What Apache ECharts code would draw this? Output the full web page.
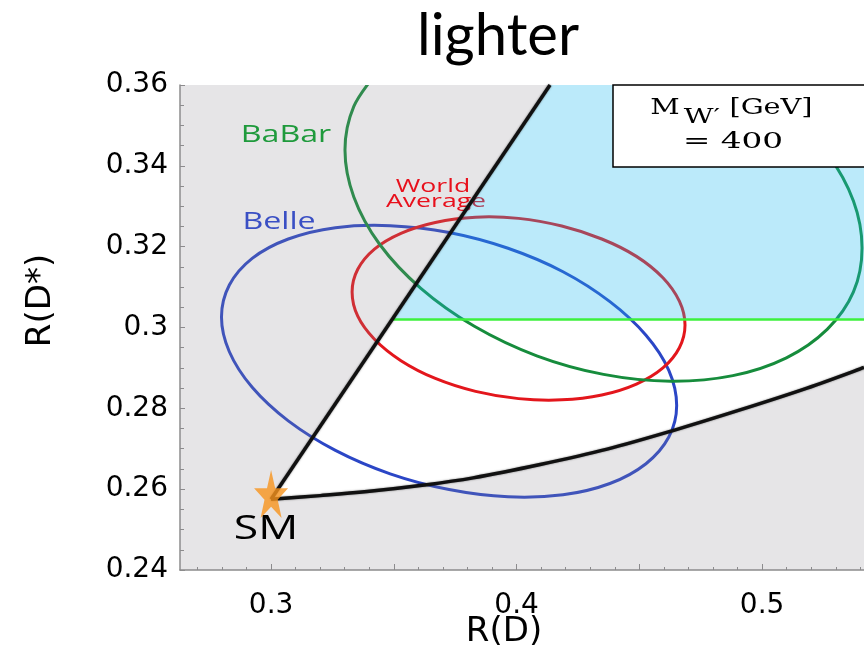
<!DOCTYPE html>
<html>
<head>
<meta charset="utf-8">
<script src="https://cdn.jsdelivr.net/npm/echarts@6/dist/echarts.min.js"></script>
<style>
  html, body { margin: 0; padding: 0; background: #fff; }
  #chart { width: 864px; height: 650px; }
</style>
</head>
<body>
<div id="chart"></div>
<script>
// Axis ranges and tick positions
const xRange = [0.2629, 0.5415];
const yRange = [0.24, 0.36];
const xLabelTicks = [0.3, 0.4, 0.5];
const xMajorTicks = [0.3, 0.35, 0.4, 0.45, 0.5];
const xMinorTicks = [0.27, 0.28, 0.29, 0.31, 0.32, 0.33, 0.34, 0.36, 0.37, 0.38, 0.39,
                     0.41, 0.42, 0.43, 0.44, 0.46, 0.47, 0.48, 0.49, 0.51, 0.52, 0.53, 0.54];

// Standard Model point [R(D), R(D*)]
const smPoint = [0.300, 0.2588];

// Allowed-region boundaries
const upperEdge = [[0.300, 0.2575], [0.4136, 0.36]];
const lowerEdge = [[0.300, 0.2575], [0.320, 0.2584], [0.3391, 0.2594], [0.3607, 0.2609],
                   [0.3823, 0.2628], [0.4096, 0.2661], [0.4369, 0.2699], [0.4637, 0.2745],
                   [0.4910, 0.2796], [0.5183, 0.2850], [0.5415, 0.2901]];
const rDstarCut = [[0.3493, 0.302], [0.5415, 0.302]];

// 1-sigma contours [R(D), R(D*)]
const belle = [[0.4652, 0.2807], [0.4620, 0.2729], [0.4527, 0.2663], [0.4380, 0.2614], [0.4189, 0.2586],
               [0.3965, 0.2581], [0.3725, 0.2599], [0.3485, 0.2638], [0.3262, 0.2696], [0.3070, 0.2769],
               [0.2923, 0.2852], [0.2830, 0.2940], [0.2798, 0.3026], [0.2830, 0.3105], [0.2923, 0.3171],
               [0.3070, 0.3219], [0.3262, 0.3247], [0.3485, 0.3252], [0.3725, 0.3235], [0.3965, 0.3196],
               [0.4189, 0.3138], [0.4380, 0.3064], [0.4527, 0.2981], [0.4620, 0.2894]];
const worldAverage = [[0.4686, 0.3006], [0.4663, 0.2950], [0.4596, 0.2900], [0.4488, 0.2860], [0.4347, 0.2833],
                      [0.4184, 0.2821], [0.4008, 0.2824], [0.3833, 0.2842], [0.3669, 0.2874], [0.3529, 0.2918],
                      [0.3421, 0.2971], [0.3353, 0.3028], [0.3330, 0.3088], [0.3353, 0.3144], [0.3421, 0.3194],
                      [0.3529, 0.3233], [0.3669, 0.3260], [0.3833, 0.3273], [0.4008, 0.3270], [0.4184, 0.3251],
                      [0.4347, 0.3219], [0.4488, 0.3176], [0.4596, 0.3123], [0.4663, 0.3065]];
const babar = [[0.4881, 0.3633], [0.5099, 0.3539], [0.5266, 0.3430], [0.5372, 0.3313], [0.5407, 0.3197],
               [0.5372, 0.3088], [0.5266, 0.2996], [0.5099, 0.2925], [0.4881, 0.2881], [0.4627, 0.2867],
               [0.4354, 0.2884], [0.4082, 0.2930], [0.3828, 0.3003], [0.3610, 0.3097], [0.3442, 0.3206],
               [0.3337, 0.3323], [0.3301, 0.3439], [0.3337, 0.3547], [0.3442, 0.3640]];

// Cubic (Catmull-Rom) path segments through pixel points, without the leading move
function splineSegments(px, closed) {
  const n = px.length;
  const f = v => v.toFixed(2);
  let d = '';
  const segs = closed ? n : n - 1;
  for (let i = 0; i < segs; i++) {
    const p0 = px[closed ? (i - 1 + n) % n : Math.max(i - 1, 0)];
    const p1 = px[i];
    const p2 = px[(i + 1) % n];
    const p3 = px[closed ? (i + 2) % n : Math.min(i + 2, n - 1)];
    const c1x = p1[0] + (p2[0] - p0[0]) / 6, c1y = p1[1] + (p2[1] - p0[1]) / 6;
    const c2x = p2[0] - (p3[0] - p1[0]) / 6, c2y = p2[1] - (p3[1] - p1[1]) / 6;
    d += ' C' + f(c1x) + ' ' + f(c1y) + ' ' + f(c2x) + ' ' + f(c2y) + ' ' + f(p2[0]) + ' ' + f(p2[1]);
  }
  return d;
}
function splinePath(px, closed) {
  return 'M' + px[0][0].toFixed(2) + ' ' + px[0][1].toFixed(2) + splineSegments(px, closed) + (closed ? ' Z' : '');
}

function curveSeries(pts, color, closed, width, z, extraStyle) {
  return {
    type: 'custom', coordinateSystem: 'cartesian2d', silent: true, clip: true, z: z,
    data: pts,
    renderItem: function (params, api) {
      if (params.dataIndex !== 0) return null;
      const px = pts.map(p => api.coord(p));
      return {
        type: 'path',
        shape: { pathData: splinePath(px, closed) },
        style: Object.assign({ fill: null, stroke: color, lineWidth: width, lineJoin: 'round' }, extraStyle || {})
      };
    }
  };
}

const starPath = 'path://M50,0 L61.8,35.4 L99,35.4 L69,57.3 L80.3,92.7 L50,70.8 L19.7,92.7 L31,57.3 L1,35.4 L38.2,35.4 Z';
const tickFont = 'DejaVu Sans';
const edgeStyle = { shadowBlur: 2, shadowColor: 'rgba(0,0,0,0.5)' };

const chart = echarts.init(document.getElementById('chart'), null, { renderer: 'canvas' });
chart.setOption({
  animation: false,
  backgroundColor: '#fff',
  title: {
    text: 'lighter', left: 493, top: 2, textAlign: 'center',
    textStyle: { fontFamily: 'Lato', fontSize: 58, fontWeight: 'normal', color: '#000' }
  },
  grid: { left: 180, right: 0, top: 85, bottom: 80, containLabel: false, outerBoundsMode: 'none' },
  xAxis: [{
    type: 'value', min: xRange[0], max: xRange[1], position: 'bottom',
    name: 'R(D)', nameLocation: 'middle', nameGap: 45, nameMoveOverlap: false,
    nameTextStyle: { fontFamily: tickFont, fontSize: 34, color: '#000', padding: [0, 36, 0, 0] },
    axisLine: { show: true, lineStyle: { color: '#8c8c8c', width: 1.5 } },
    axisTick: { show: true, inside: true, length: 6, customValues: xMajorTicks, lineStyle: { color: '#8c8c8c' } },
    axisLabel: {
      customValues: xLabelTicks, margin: 22, color: '#000', fontFamily: tickFont, fontSize: 28,
      formatter: v => String(+(+v).toFixed(2))
    },
    splitLine: { show: false }
  }, {
    type: 'value', min: xRange[0], max: xRange[1], position: 'bottom',
    axisLine: { show: false },
    axisTick: { show: true, inside: true, length: 3, customValues: xMinorTicks, lineStyle: { color: '#8c8c8c' } },
    axisLabel: { show: false },
    splitLine: { show: false }
  }],
  yAxis: {
    type: 'value', min: yRange[0], max: yRange[1], interval: 0.02,
    name: 'R(D*)', nameLocation: 'middle', nameGap: 122,
    nameTextStyle: { fontFamily: tickFont, fontSize: 34, color: '#000', padding: [0, 0, 0, 54] },
    axisLine: { show: true, lineStyle: { color: '#8c8c8c', width: 1.5 } },
    axisTick: { show: true, inside: true, length: 5, lineStyle: { color: '#8c8c8c' } },
    minorTick: { show: true, splitNumber: 4, length: 4, lineStyle: { color: '#8c8c8c' } },
    axisLabel: { margin: 12, color: '#000', fontFamily: tickFont, fontSize: 28 },
    splitLine: { show: false }
  },
  series: [
    curveSeries(belle, '#2b46c6', true, 3, 2),
    curveSeries(worldAverage, '#e3161c', true, 3, 2),
    curveSeries(babar, '#168c3c', false, 3, 2),
    {
      // excluded (grey) region: everything outside the wedge between the two edges
      type: 'custom', coordinateSystem: 'cartesian2d', silent: true, clip: true, z: 3,
      data: lowerEdge,
      renderItem: function (params, api) {
        if (params.dataIndex !== 0) return null;
        const c = p => api.coord(p).map(v => v.toFixed(2)).join(' ');
        const px = lowerEdge.map(p => api.coord(p));
        const d = 'M' + c([xRange[0], yRange[0]]) + ' L' + c([xRange[0], yRange[1]]) +
                  ' L' + c(upperEdge[1]) + ' L' + c(upperEdge[0]) + ' L' + c(lowerEdge[0]) +
                  splineSegments(px, false) +
                  ' L' + c([xRange[1], yRange[0]]) + ' Z';
        return { type: 'path', shape: { pathData: d }, style: { fill: 'rgba(140,136,144,0.22)', stroke: null } };
      }
    },
    {
      // favoured (blue) region above the R(D*) cut
      type: 'custom', coordinateSystem: 'cartesian2d', silent: true, clip: true, z: 5,
      data: rDstarCut,
      renderItem: function (params, api) {
        if (params.dataIndex !== 0) return null;
        const pts = [rDstarCut[0], upperEdge[1], [xRange[1], yRange[1]], rDstarCut[1]];
        return {
          type: 'polygon', shape: { points: pts.map(p => api.coord(p)) },
          style: { fill: 'rgba(30,185,240,0.3)', stroke: null }
        };
      }
    },
    {
      type: 'line', data: rDstarCut, symbol: 'none', z: 6, silent: true,
      lineStyle: { color: '#3cf03c', width: 2.5 }
    },
    {
      type: 'line', data: upperEdge, symbol: 'none', z: 6, silent: true,
      lineStyle: Object.assign({ color: '#111', width: 3.5 }, edgeStyle)
    },
    curveSeries(lowerEdge, '#111', false, 3.5, 6, edgeStyle),
    {
      type: 'scatter', data: [smPoint], symbol: starPath, symbolSize: [34, 48],
      symbolKeepAspect: false, z: 7, silent: true,
      itemStyle: { color: '#f7941d' }
    }
  ],
  graphic: [
    { type: 'text', x: 286, y: 135, scaleX: 1.4, z: 4,
      style: { text: 'BaBar', fill: '#1f9a3c', font: '23px "Open Sans"', align: 'center', verticalAlign: 'middle' } },
    { type: 'text', x: 279, y: 222, scaleX: 1.4, z: 4,
      style: { text: 'Belle', fill: '#3a4fc4', font: '23px "Open Sans"', align: 'center', verticalAlign: 'middle' } },
    { type: 'text', x: 433, y: 187, scaleX: 1.4, z: 4,
      style: { text: 'World', fill: '#e8101c', font: '19px "Open Sans"', align: 'center', verticalAlign: 'middle' } },
    { type: 'text', x: 436, y: 202, scaleX: 1.4, z: 4,
      style: { text: 'Average', fill: '#e8101c', font: '19px "Open Sans"', align: 'center', verticalAlign: 'middle' } },
    { type: 'text', x: 266, y: 530, scaleX: 1.35, z: 4,
      style: { text: 'SM', fill: '#000', font: '33px "Open Sans"', align: 'center', verticalAlign: 'middle' } },
    { type: 'rect', z: 10, shape: { x: 613, y: 85, width: 300, height: 82 },
      style: { fill: '#fff', stroke: '#000', lineWidth: 1.5 } },
    { type: 'text', x: 665, y: 108, scaleX: 1.25, z: 11,
      style: { text: 'M', fill: '#000', font: '23px "DejaVu Serif"', align: 'center', verticalAlign: 'middle' } },
    { type: 'text', x: 702, y: 118, scaleX: 1.45, z: 11,
      style: { text: 'W\u2032', fill: '#000', font: '20px "DejaVu Serif"', align: 'center', verticalAlign: 'middle' } },
    { type: 'text', x: 771, y: 108, scaleX: 1.25, z: 11,
      style: { text: '[GeV]', fill: '#000', font: '23px "DejaVu Serif"', align: 'center', verticalAlign: 'middle' } },
    { type: 'text', x: 733, y: 142, scaleX: 1.42, z: 11,
      style: { text: '= 400', fill: '#000', font: '23px "DejaVu Serif"', align: 'center', verticalAlign: 'middle' } }
  ]
});
</script>
</body>
</html>
